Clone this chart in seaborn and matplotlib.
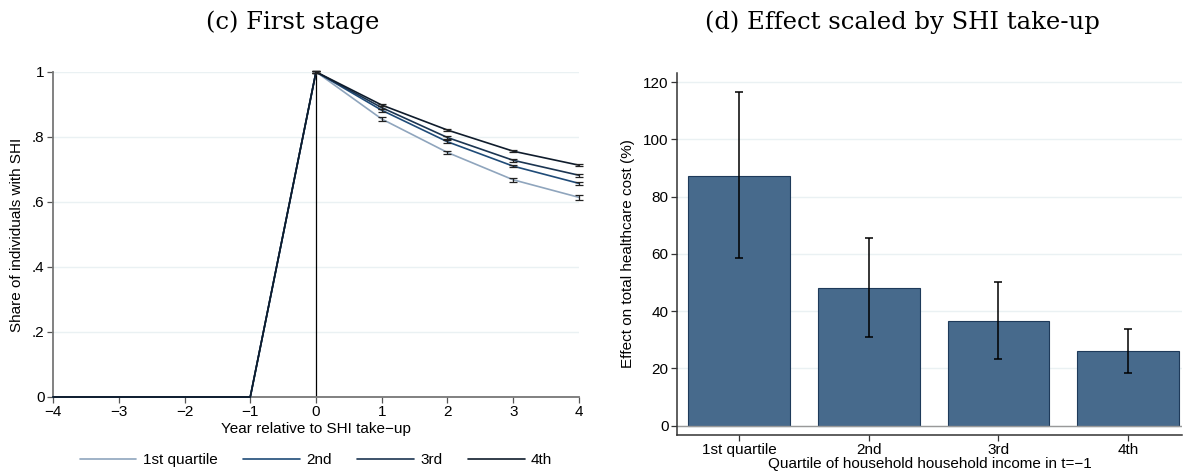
import numpy as np
import pandas as pd
import seaborn as sns
import matplotlib.pyplot as plt

# ---- data ----
years = [-4, -3, -2, -1, 0, 1, 2, 3, 4]
q1_share = [0, 0, 0, 0, 1, 0.855, 0.752, 0.668, 0.614]
q2_share = [0, 0, 0, 0, 1, 0.882, 0.785, 0.710, 0.657]
q3_share = [0, 0, 0, 0, 1, 0.890, 0.798, 0.728, 0.682]
q4_share = [0, 0, 0, 0, 1, 0.898, 0.821, 0.756, 0.713]
q1_err = [0, 0, 0, 0, 0.002, 0.006, 0.006, 0.006, 0.007]
q2_err = [0, 0, 0, 0, 0.002, 0.004, 0.004, 0.004, 0.004]
q3_err = [0, 0, 0, 0, 0.002, 0.004, 0.004, 0.004, 0.004]
q4_err = [0, 0, 0, 0, 0.002, 0.003, 0.003, 0.003, 0.003]
line_labels = ['1st quartile', '2nd', '3rd', '4th']
line_colors = ['#8fa5bd', '#1f4b78', '#1b3552', '#0f1c2c']

quartiles = ['1st quartile', '2nd', '3rd', '4th']
effect = [87.3, 48.1, 36.7, 25.9]
ci_low = [58.4, 31.0, 23.3, 18.5]
ci_high = [116.6, 65.6, 50.3, 33.6]

sns.set_theme(style='white')
plt.rcParams['font.family'] = ['Liberation Sans', 'DejaVu Sans']
plt.rcParams['axes.unicode_minus'] = True
for k in ['text.color', 'axes.labelcolor', 'xtick.labelcolor', 'ytick.labelcolor']:
    plt.rcParams[k] = 'black'
grid_col = '#eaf1f3'

fig = plt.figure(figsize=(11.97, 4.76), dpi=100)
ax1 = fig.add_axes([0.0443, 0.166, 0.4394, 0.683])
ax2 = fig.add_axes([0.5656, 0.0861, 0.4219, 0.7605])

# ---- (c) first stage ----
shares = [q1_share, q2_share, q3_share, q4_share]
errs = [q1_err, q2_err, q3_err, q4_err]
df = pd.DataFrame({
    'year': years * 4,
    'share': sum(shares, []),
    'group': sum([[lab] * len(years) for lab in line_labels], []),
})
ax1.axvline(0, ymin=0, ymax=1, color='black', lw=0.9, zorder=1)
sns.lineplot(data=df, x='year', y='share', hue='group', palette=line_colors,
             hue_order=line_labels, lw=1.2, ax=ax1, legend=False,
             clip_on=False, zorder=3)
for s, e in zip(shares, errs):
    yr = np.array(years)[4:]
    ax1.errorbar(yr, np.array(s)[4:], yerr=np.array(e)[4:], fmt='none',
                 ecolor='#222222', elinewidth=0.9, capsize=3, capthick=0.9,
                 clip_on=False, zorder=4)
ax1.set_xlim(-4, 4)
ax1.set_ylim(0, 1)
ax1.set_xticks(range(-4, 5))
ax1.set_xticklabels([str(v).replace('-', '\u2212') for v in range(-4, 5)])
ax1.set_yticks([0, 0.2, 0.4, 0.6, 0.8, 1])
ax1.set_yticklabels(['0', '.2', '.4', '.6', '.8', '1'])
ax1.yaxis.grid(True, color=grid_col, lw=1)
ax1.set_axisbelow(True)
ax1.set_xlabel('Year relative to SHI take\u2212up', fontsize=11, labelpad=2)
ax1.set_ylabel('Share of individuals with SHI', fontsize=11, labelpad=6)
for sp in ['top', 'right']:
    ax1.spines[sp].set_visible(False)
for sp in ['left', 'bottom']:
    ax1.spines[sp].set_color('#777777')
    ax1.spines[sp].set_linewidth(1.3)
ax1.tick_params(axis='both', labelsize=11, direction='out', length=4,
                width=0.9, color='#555555', bottom=True, left=True, pad=2)
handles = [plt.Line2D([], [], color=c, lw=1.2) for c in line_colors]
ax1.legend(handles, line_labels, loc='center', bbox_to_anchor=(0.5, -0.194),
           ncol=4, frameon=False, fontsize=11, handlelength=3.7,
           handletextpad=0.4, columnspacing=1.7)

# ---- (d) effect scaled by SHI take-up ----
bar_df = pd.DataFrame({'quartile': quartiles, 'effect': effect})
sns.barplot(data=bar_df, x='quartile', y='effect', color='#476a8c',
            saturation=1, width=0.785, edgecolor='#1e3a5a', linewidth=0.8,
            errorbar=None, ax=ax2)
mid = np.array(effect)
ax2.errorbar(np.arange(len(quartiles)), mid,
             yerr=[mid - np.array(ci_low), np.array(ci_high) - mid], fmt='none',
             ecolor='black', elinewidth=1.1, capsize=3, capthick=1.1, zorder=4)
ax2.axhline(0, color='#999999', lw=1, zorder=1)
ax2.set_xlim(-0.477, 3.415)
ax2.set_ylim(-3.3, 123.2)
ax2.set_yticks(range(0, 121, 20))
ax2.yaxis.grid(True, color=grid_col, lw=1)
ax2.set_axisbelow(True)
ax2.set_xlabel('Quartile of household household income in t=\u22121',
               fontsize=11, labelpad=0)
ax2.set_ylabel('Effect on total healthcare cost (%)', fontsize=11, labelpad=6)
for sp in ['top', 'right']:
    ax2.spines[sp].set_visible(False)
for sp in ['left', 'bottom']:
    ax2.spines[sp].set_color('#333333')
    ax2.spines[sp].set_linewidth(1.1)
ax2.tick_params(axis='both', labelsize=11, direction='out', length=4,
                width=0.9, color='#333333', bottom=True, left=True, pad=2)

fig.text(0.2448, 0.953, '(c) First stage', ha='center', va='center',
         fontsize=17.5, family='DejaVu Serif')
fig.text(0.7536, 0.953, '(d) Effect scaled by SHI take-up', ha='center',
         va='center', fontsize=17.5, family='DejaVu Serif')

fig.savefig('out.png', dpi=100)
